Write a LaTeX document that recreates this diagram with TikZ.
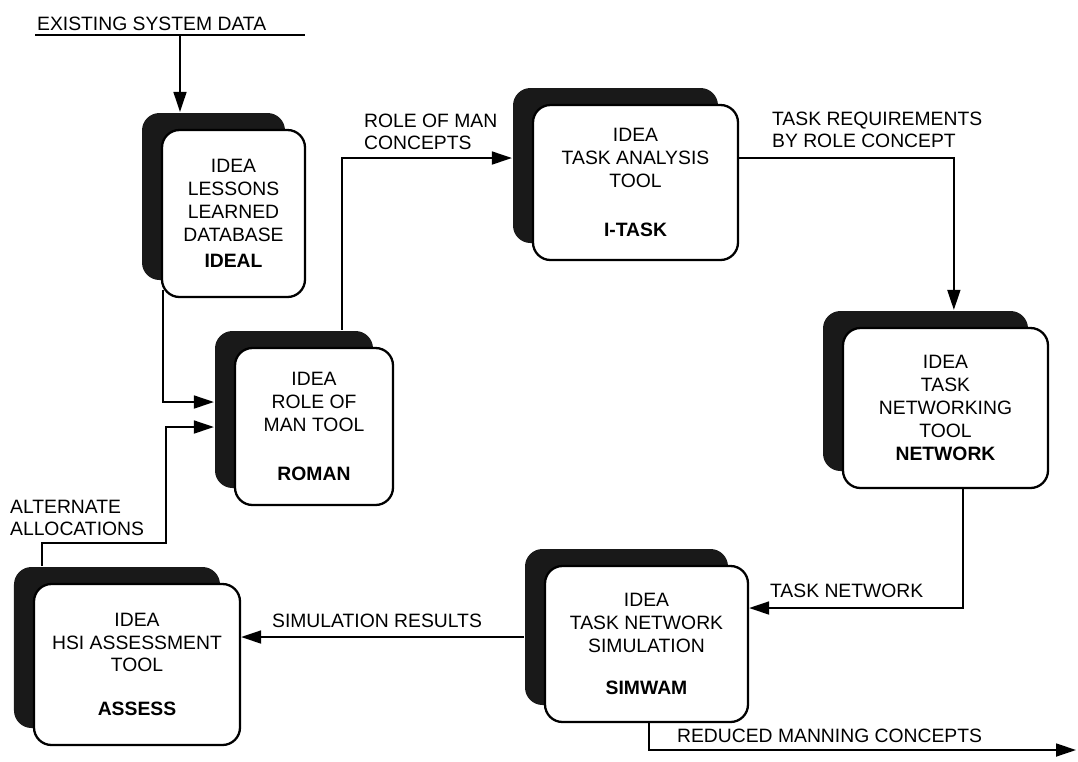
\documentclass[tikz,border=0pt]{standalone}
\usepackage{fontspec}
\setmainfont{Liberation Sans}
\usetikzlibrary{arrows.meta, calc, shadows}

\begin{document}
\begin{tikzpicture}[
    x=0.2mm, y=-0.2mm,
    tool/.style={rectangle, draw, line width=1.3pt, rounded corners=3.5mm,
                 fill=white, align=center, inner sep=0pt,
                 font=\fontsize{11}{13}\selectfont,
                 drop shadow={shadow xshift=-4mm, shadow yshift=3.4mm,
                              fill=black!90, opacity=1}},
    caption/.style={font=\fontsize{11}{12.5}\selectfont, align=left,
                    inner sep=1pt},
    line/.style={line width=1pt},
    arrow/.style={line, -{Triangle[length=4mm, width=2.6mm]}},
  ]
  \useasboundingbox (0,0) rectangle (1078,761);

  % Tools
  \node[tool, minimum width=2.86cm, minimum height=3.34cm] (ideal) at (233.5,213.5)
    {IDEA\\LESSONS\\LEARNED\\DATABASE\\[2pt]\textbf{IDEAL}};
  \node[tool, minimum width=3.16cm, minimum height=3.14cm] (roman) at (314,426.5)
    {IDEA\\ROLE OF\\MAN TOOL\\[15pt]\textbf{ROMAN}};
  \node[tool, minimum width=4.1cm, minimum height=3.1cm] (itask) at (635.5,182.5)
    {IDEA\\TASK ANALYSIS\\TOOL\\[15pt]\textbf{I-TASK}};
  \node[tool, minimum width=4.1cm, minimum height=3.2cm] (network) at (945.5,408)
    {IDEA\\TASK\\NETWORKING\\TOOL\\\textbf{NETWORK}};
  \node[tool, minimum width=4.06cm, minimum height=3.12cm] (simwam) at (646.5,644)
    {IDEA\\TASK NETWORK\\SIMULATION\\[11pt]\textbf{SIMWAM}};
  \node[tool, minimum width=4.12cm, minimum height=3.22cm] (assess) at (137,664.5)
    {IDEA\\HSI ASSESSMENT\\TOOL\\[12pt]\textbf{ASSESS}};

  % top left corners of the shadows
  \coordinate (idealS) at ($(ideal.north west)+(-20,-17)$);
  \coordinate (romanS) at ($(roman.north west)+(-20,-17)$);
  \coordinate (itaskS) at ($(itask.north west)+(-20,-17)$);
  \coordinate (networkS) at ($(network.north west)+(-20,-17)$);
  \coordinate (simwamS) at ($(simwam.north west)+(-20,-17)$);
  \coordinate (assessS) at ($(assess.north west)+(-20,-17)$);

  % Input
  \node[caption, anchor=base west] (data) at (35,30) {EXISTING SYSTEM DATA};
  \draw[line] ([yshift=-1mm]data.base west) coordinate (busL) -- ++(270,0);
  \draw[arrow] ($(busL)+(145,0)$) coordinate (feed) -- (feed |- idealS);

  % Labels
  \node[caption, anchor=south west] (alt) at (8,538) {ALTERNATE\\ALLOCATIONS};
  \node[caption, anchor=south west] (concepts) at (362,152) {ROLE OF MAN\\CONCEPTS};
  \node[caption, anchor=south west] (req) at (770,150) {TASK REQUIREMENTS\\BY ROLE CONCEPT};
  \node[caption, anchor=south west] (tnet) at (768,600) {TASK NETWORK};
  \node[caption, anchor=south west] (simres) at (270,630) {SIMULATION RESULTS};
  \node[caption, anchor=south west] (reduced) at (675,745) {REDUCED MANNING CONCEPTS};
  \coordinate (out) at (1076,750);

  % Arrows
  \draw[arrow] ($(ideal.south west)+(2,-8)$) |- (romanS |- 0,402);
  \draw[arrow] ($(assessS)+(29,0)$) |- (166,543) |- (romanS |- 0,427);
  \draw[arrow] ($(romanS)+(128,0)$) |- (itaskS |- 0,158);
  \draw[arrow] (itask.east |- 0,158) -| ($(networkS)+(132,0)$);
  \draw[arrow] ([xshift=3.5mm]network.south) |- (simwam.east |- 0,608);
  \draw[arrow] (simwamS |- 0,637) -- (assess.east |- 0,637);
  \draw[arrow] ([xshift=0.5mm]simwam.south) |- (out);
\end{tikzpicture}
\end{document}
